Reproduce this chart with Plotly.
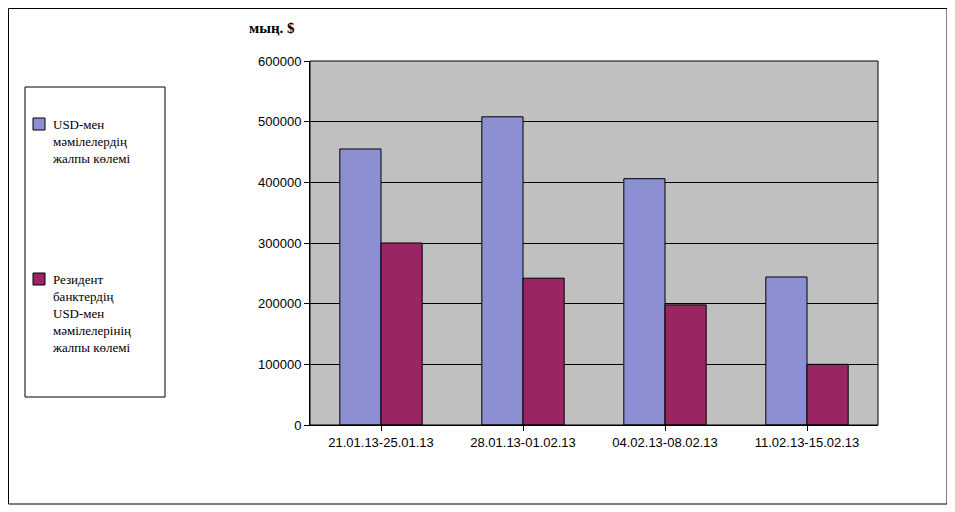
import plotly.graph_objects as go

categories = ["21.01.13-25.01.13", "28.01.13-01.02.13", "04.02.13-08.02.13", "11.02.13-15.02.13"]
usd_total = [455000, 508000, 406000, 244000]
resident_total = [300000, 242000, 198000, 100000]
series_names = ["USD-мен<br>мәмілелердің<br>жалпы көлемі",
                "Резидент<br>банктердің<br>USD-мен<br>мәмілелерінің<br>жалпы көлемі"]
colors = ["#8c8fd2", "#9a2562"]

fig = go.Figure()
fig.add_bar(x=categories, y=usd_total, marker=dict(color=colors[0], line=dict(color="black", width=1)), showlegend=False)
fig.add_bar(x=categories, y=resident_total, marker=dict(color=colors[1], line=dict(color="black", width=1)), showlegend=False)

OFF = 8  # page body margin
FW, FH = 955 - OFF, 512 - OFF
L, R, T, B = 310 - OFF, 878 - OFF, 61 - OFF, 425 - OFF
W = R - L; H = B - T
px = lambda v: (v - OFF - L) / W
py = lambda v: (B - (v - OFF)) / H

shapes = [
    dict(type="rect", xref="paper", yref="paper", x0=px(8.5), x1=px(947), y0=py(504), y1=py(8.5), line=dict(color="black", width=1)),
    dict(type="rect", xref="paper", yref="paper", x0=px(25), x1=px(165), y0=py(397), y1=py(87), line=dict(color="black", width=1)),
    dict(type="rect", xref="paper", yref="paper", x0=px(33), x1=px(45), y0=py(130), y1=py(118), fillcolor=colors[0], line=dict(color="black", width=1)),
    dict(type="rect", xref="paper", yref="paper", x0=px(33), x1=px(45), y0=py(285), y1=py(273), fillcolor=colors[1], line=dict(color="black", width=1)),
    dict(type="rect", xref="paper", yref="paper", x0=0, x1=1, y0=0, y1=1, line=dict(color="black", width=1)),
]
font_serif = dict(family="Liberation Serif, serif", size=13, color="black")
annotations = [
    dict(xref="paper", yref="paper", x=px(50), y=py(115), xanchor="left", yanchor="top", align="left",
         text=series_names[0], showarrow=False, font=font_serif),
    dict(xref="paper", yref="paper", x=px(50), y=py(270), xanchor="left", yanchor="top", align="left",
         text=series_names[1], showarrow=False, font=font_serif),
    dict(xref="paper", yref="paper", x=px(272), y=py(28), xanchor="center", yanchor="middle",
         text="<b>мың. $</b>", showarrow=False, font=dict(family="Liberation Serif, serif", size=15, color="black")),
]

fig.update_layout(
    width=FW, height=FH, margin=dict(l=L, r=FW - R, t=T, b=FH - B),
    paper_bgcolor="white", plot_bgcolor="#c0c0c0",
    barmode="group", bargap=0.42, bargroupgap=0,
    shapes=shapes, annotations=annotations,
    font=dict(family="Liberation Sans, Arial", size=13, color="black"),
    xaxis=dict(showgrid=False, ticks="outside", ticklen=5, tickcolor="black", showline=True, linecolor="black"),
    yaxis=dict(range=[0, 600000], dtick=100000, showgrid=True, gridcolor="black", gridwidth=1,
               ticks="outside", ticklen=5, tickcolor="black", showline=True, linecolor="black",
               tickformat="d", zeroline=False),
)
fig.write_html("out.html")
